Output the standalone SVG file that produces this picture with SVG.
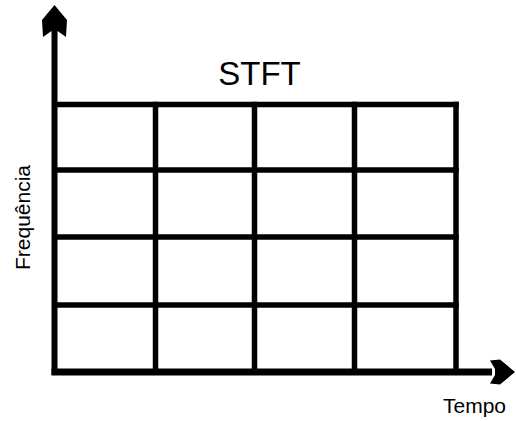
<svg xmlns="http://www.w3.org/2000/svg" width="516" height="421" viewBox="0 0 516 421">
<style>
.ln{stroke:#000;stroke-width:5.5;fill:none;stroke-linecap:square}
.ax{stroke:#000;stroke-width:6;fill:none}
.hd{fill:#000}
.t{font-family:"Liberation Sans",Arial,sans-serif;fill:#000}
</style>
<rect width="516" height="421" fill="#fff"/>
<g id="grid">
<line class="ln" x1="55" y1="104.5" x2="456" y2="104.5"/>
<line class="ln" x1="55" y1="170" x2="456" y2="170"/>
<line class="ln" x1="55" y1="237" x2="456" y2="237"/>
<line class="ln" x1="55" y1="305" x2="456" y2="305"/>
<line class="ln" x1="155.5" y1="104.5" x2="155.5" y2="372"/>
<line class="ln" x1="254.5" y1="104.5" x2="254.5" y2="372"/>
<line class="ln" x1="354.5" y1="104.5" x2="354.5" y2="372"/>
<line class="ln" x1="456" y1="104.5" x2="456" y2="372"/>
</g>
<g id="axes">
<line class="ax" x1="54.5" y1="30" x2="54.5" y2="375"/>
<path class="hd" d="M54.5,5 L67,20 L66,37 L57.5,31 L51.5,31 L43,37 L42,20 Z"/>
<line class="ax" x1="51.5" y1="372" x2="492" y2="372" style="stroke-width:7"/>
<path class="hd" d="M515,372 L500,359.5 L490,360.5 L495,369 L495,375 L490,383.5 L500,384.5 Z"/>
</g>
<g id="labels">
<text class="t" x="259.5" y="85" font-size="33" text-anchor="middle">STFT</text>
<text class="t" x="443" y="413" font-size="21">Tempo</text>
<text class="t" font-size="21" text-anchor="middle" transform="translate(30,217.5) rotate(-90)">Frequência</text>
</g>
</svg>
